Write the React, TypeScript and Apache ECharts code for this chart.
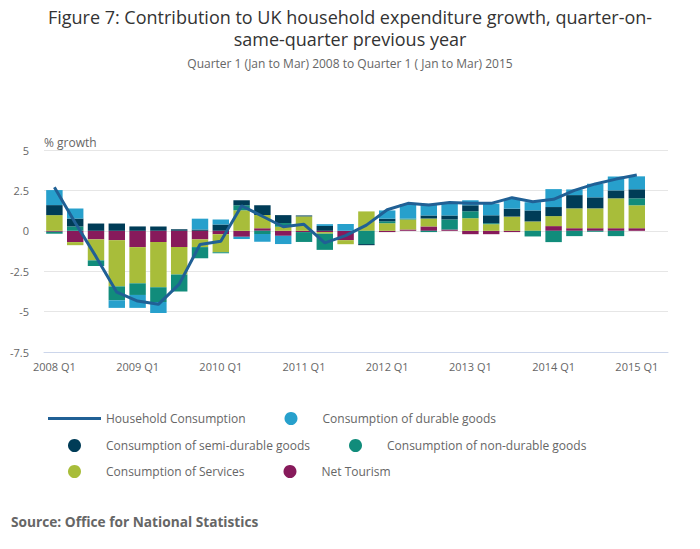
import React, { useEffect, useRef } from "react";
import * as echarts from "echarts";

const categories = [
  "2008 Q1", "2008 Q2", "2008 Q3", "2008 Q4",
  "2009 Q1", "2009 Q2", "2009 Q3", "2009 Q4",
  "2010 Q1", "2010 Q2", "2010 Q3", "2010 Q4",
  "2011 Q1", "2011 Q2", "2011 Q3", "2011 Q4",
  "2012 Q1", "2012 Q2", "2012 Q3", "2012 Q4",
  "2013 Q1", "2013 Q2", "2013 Q3", "2013 Q4",
  "2014 Q1", "2014 Q2", "2014 Q3", "2014 Q4",
  "2015 Q1", "2015 Q2",
];

const householdConsumption = [
  2.7, 0.5, -1.6, -3.8, -4.35, -4.55, -3.3, -0.85, -0.65, 1.55, 0.9, 0.25, 0.4, -0.75,
  -0.3, 0.35, 1.3, 1.7, 1.6, 1.75, 1.7, 1.7, 2.05, 1.8, 1.95, 2.5, 2.9, 3.2, 3.45,
];

const durableGoods = [
  0.93, 0.62, 0, -0.47, -0.8, -0.68, 0, 0.67, 0.31, -0.14, -0.47, -0.51, 0, 0.11,
  0.42, 0, 0.51, 0.9, 0.72, 0.72, 0.31, 0.72, 0.6, 0.51, 1.11, 0.35, 0.84, 0.86, 0.8,
];

const semiDurableGoods = [
  0.62, 0.49, 0.45, 0.45, 0.27, 0.27, 0.1, 0.08, 0.39, 0.31, 0.6, 0.49, 0.06, 0.3,
  0, -0.07, 0.16, 0, 0.19, 0.25, 0.37, 0.49, 0.49, 0.68, 0.56, 0.82, 0.68, 0.49, 0.56,
];

const nonDurableGoods = [
  -0.12, 0.27, -0.35, -0.86, -0.72, -0.91, -1.05, -0.69, -0.06, 0.31, -0.2, 0.23, -0.61, -1.0,
  0, -0.82, 0.12, 0.06, -0.08, 0.62, 0.43, 0.06, 0, -0.35, -0.7, -0.33, -0.06, -0.33, 0.43,
];

const services = [
  0.97, -0.19, -1.3, -2.86, -2.24, -2.8, -1.69, -0.48, -1.11, 1.27, 0.82, 0.25, 0.89, -0.1,
  -0.25, 1.2, 0.47, 0.62, 0.49, 0, 0.78, 0.41, 0.88, 0.58, 0.62, 1.23, 1.23, 1.85, 1.42,
];

const netTourism = [
  -0.06, -0.7, -0.53, -0.58, -1.01, -0.7, -1.01, -0.53, -0.22, -0.37, 0.16, -0.31, -0.08, -0.08,
  -0.58, 0, -0.08, 0.08, 0.27, 0.08, -0.21, -0.21, -0.08, 0, 0.29, 0.16, 0.16, 0.16, 0.16,
];

const yTicks = { min: -7.5, max: 5, interval: 2.5 };

const NAMES = {
  line: "Household Consumption",
  durable: "Consumption of durable goods",
  semi: "Consumption of semi-durable goods",
  non: "Consumption of non-durable goods",
  services: "Consumption of Services",
  tourism: "Net Tourism",
};

const COLORS = {
  line: "#206095",
  durable: "#27a0cc",
  semi: "#003c57",
  non: "#118c7b",
  services: "#a8bd3a",
  tourism: "#871a5b",
};

const FONT = "'Open Sans', sans-serif";
const LINE_ICON = "path://M0,0 L53,0 L53,3 L0,3 Z";

export default function App() {
  const ref = useRef<HTMLDivElement>(null);

  useEffect(() => {
    if (!ref.current) return;
    const chart = echarts.init(ref.current, null, { renderer: "svg" });

    const barSeries = (name: string, data: number[], color: string) => ({
      name,
      type: "bar",
      stack: "total",
      data,
      barCategoryGap: "21%",
      itemStyle: { color },
      emphasis: { disabled: true },
    });

    const legendCommon = {
      orient: "horizontal",
      padding: 0,
      itemWidth: 53,
      itemHeight: 13,
      itemGap: 39,
      selectedMode: false,
      symbolKeepAspect: true,
      textStyle: { color: "#666", fontSize: 12, fontFamily: FONT },
    };

    const item = (name: string, icon: string) => ({ name, icon });

    const titleStyle = {
      fontSize: 18,
      fontWeight: "normal",
      color: "#333",
      lineHeight: 20,
      fontFamily: FONT,
    };

    chart.setOption({
      animation: false,
      title: [
        {
          text: "Figure 7: Contribution to UK household expenditure growth, quarter-on-",
          left: "center",
          top: 2,
          padding: 5,
          textStyle: titleStyle,
        },
        {
          text: "same-quarter previous year",
          left: "center",
          top: 24,
          padding: 5,
          textStyle: titleStyle,
        },
        {
          text: "Quarter 1 (Jan to Mar) 2008 to Quarter 1 ( Jan to Mar) 2015",
          left: "center",
          top: 52,
          textStyle: {
            fontSize: 12,
            fontWeight: "normal",
            color: "#666",
            fontFamily: FONT,
          },
        },
      ],
      legend: [
        {
          ...legendCommon,
          left: 48,
          top: 412,
          data: [item(NAMES.line, LINE_ICON), item(NAMES.durable, "circle")],
        },
        {
          ...legendCommon,
          left: 68,
          top: 439,
          data: [item(NAMES.semi, "circle"), item(NAMES.non, "circle")],
        },
        {
          ...legendCommon,
          left: 68,
          top: 465,
          data: [item(NAMES.services, "circle"), item(NAMES.tourism, "circle")],
        },
      ],
      grid: { left: 44, right: 32, top: 150, bottom: 197, containLabel: false },
      xAxis: {
        type: "category",
        data: categories,
        boundaryGap: true,
        axisLine: { onZero: false, lineStyle: { color: "#ccd6eb", width: 1 } },
        axisTick: {
          interval: 3,
          alignWithLabel: true,
          length: 10,
          lineStyle: { color: "#ccd6eb" },
        },
        axisLabel: {
          interval: 3,
          color: "#666",
          fontSize: 11,
          margin: 9,
          fontFamily: FONT,
        },
        splitLine: { show: false },
      },
      yAxis: {
        type: "value",
        min: yTicks.min,
        max: yTicks.max,
        interval: yTicks.interval,
        axisLine: { show: false },
        axisTick: { show: false },
        axisLabel: { color: "#666", fontSize: 11, margin: 15, fontFamily: FONT },
        splitLine: { lineStyle: { color: "#e6e6e6", width: 1 } },
      },
      graphic: [
        {
          type: "text",
          left: 44,
          top: 136,
          style: { text: "% growth", fill: "#666", fontSize: 12, fontFamily: FONT },
        },
        {
          type: "text",
          left: 11,
          top: 514,
          style: {
            text: "Source: Office for National Statistics",
            fill: "#666",
            fontSize: 13.7,
            fontWeight: "bold",
            fontFamily: FONT,
          },
        },
      ],
      series: [
        barSeries(NAMES.tourism, netTourism, COLORS.tourism),
        barSeries(NAMES.services, services, COLORS.services),
        barSeries(NAMES.non, nonDurableGoods, COLORS.non),
        barSeries(NAMES.semi, semiDurableGoods, COLORS.semi),
        barSeries(NAMES.durable, durableGoods, COLORS.durable),
        {
          name: NAMES.line,
          type: "line",
          data: householdConsumption,
          symbol: "none",
          showSymbol: false,
          z: 5,
          lineStyle: { color: COLORS.line, width: 3 },
          itemStyle: { color: COLORS.line },
          emphasis: { disabled: true },
        },
      ],
    });

    return () => chart.dispose();
  }, []);

  return (
    <div
      ref={ref}
      style={{ position: "fixed", left: 0, top: 0, width: 700, height: 549, background: "#fff" }}
    />
  );
}
